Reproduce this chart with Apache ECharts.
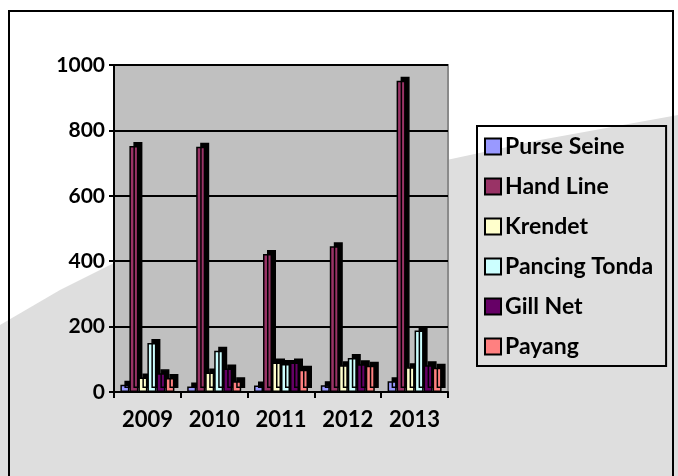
<!DOCTYPE html>
<html><head><meta charset="utf-8">
<script src="https://cdn.jsdelivr.net/npm/echarts@6/dist/echarts.min.js"></script>
<style>html,body{margin:0;padding:0;background:#fff}#c{width:678px;height:476px}</style>
</head><body><div id="c"></div>
<script>
const categories = ['2009','2010','2011','2012','2013'];
const seriesNames = ['Purse Seine','Hand Line','Krendet','Pancing Tonda','Gill Net','Payang'];
const purseSeine = [22, 17, 20, 21, 33];
const handLine = [752, 750, 422, 446, 952];
const krendet = [44, 60, 90, 82, 76];
const pancingTonda = [150, 126, 86, 104, 188];
const gillNet = [57, 72, 90, 85, 82];
const payang = [43, 33, 68, 80, 74];
const yTicks = [0, 200, 400, 600, 800, 1000];
const colors = ['#9999FF','#993366','#FFFFCC','#CCFFFF','#660066','#FF8080'];
const values = [purseSeine, handLine, krendet, pancingTonda, gillNet, payang];

const font = 'Lato';
const chart = echarts.init(document.getElementById('c'), null, {renderer:'canvas'});
chart.setOption({
  backgroundColor: '#ffffff',
  animation: false,
  graphic: [
    {type:'polygon', silent:true, z:-10, shape:{points:[[0,476],[0,325],[60,290],[130,255],[250,210],[400,170],[540,140],[678,115],[678,476]]}, style:{fill:'#dedede'}},
    {type:'rect', silent:true, z:-5, shape:{x:9, y:11, width:664, height:470}, style:{fill:'none', stroke:'#000', lineWidth:2}}
  ],
  grid: {left:114, right:230, top:65, bottom:84, show:true, backgroundColor:'#C0C0C0', borderColor:'#8a8a8a', borderWidth:2},
  legend: {
    orient:'vertical', left:477, top:126,
    data: seriesNames,
    itemWidth:16, itemHeight:16, itemGap:17,
    padding:[9, 13, 8, 7],
    borderColor:'#000', borderWidth:2, backgroundColor:'rgba(0,0,0,0)',
    icon:'rect',
    itemStyle:{borderColor:'#000', borderWidth:2},
    textStyle:{fontFamily:font, fontWeight:'bold', fontSize:23, color:'#000', padding:[0,0,0,-1]}
  },
  xAxis: {
    type:'category', data:categories,
    axisLine:{show:true, lineStyle:{color:'#000', width:2}},
    axisTick:{show:true, alignWithLabel:false, length:6, lineStyle:{color:'#000', width:2}},
    axisLabel:{fontFamily:font, fontWeight:'bold', fontSize:22, color:'#000', margin:17}
  },
  yAxis: {
    type:'value', min:0, max:1000, interval:200,
    axisLine:{show:true, lineStyle:{color:'#000', width:2}},
    axisTick:{show:true, length:5, lineStyle:{color:'#000', width:2}},
    axisLabel:{fontFamily:font, fontWeight:'bold', fontSize:21, color:'#000', margin:9,
      formatter: v => yTicks.includes(v) ? String(v) : ''},
    splitLine:{show:true, lineStyle:{color:'#000', width:2}}
  },
  series: seriesNames.map((name, i) => ({
    name, type:'bar', data: values[i],
    barWidth: 9, barGap:'0%',
    itemStyle:{color:colors[i], borderColor:'#000', borderWidth:1.5,
      shadowColor:'#000', shadowBlur:0, shadowOffsetX:4, shadowOffsetY:-4}
  }))
});
</script></body></html>
